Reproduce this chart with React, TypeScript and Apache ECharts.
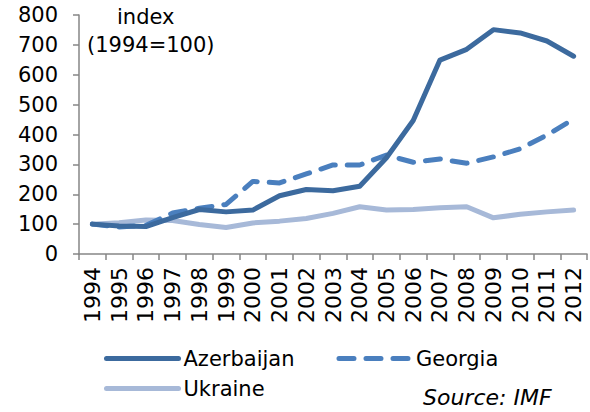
import React, { useEffect, useRef } from "react";
import * as echarts from "echarts";

const years = ["1994","1995","1996","1997","1998","1999","2000","2001","2002","2003","2004","2005","2006","2007","2008","2009","2010","2011","2012"];
const azerbaijan = [100, 94, 92, 122, 149, 141, 147, 195, 216, 212, 227, 322, 447, 649, 685, 751, 740, 713, 662];
const georgia = [100, 90, 96, 137, 153, 166, 243, 238, 268, 298, 298, 331, 307, 318, 304, 325, 352, 398, 452];
const ukraine = [100, 105, 114, 112, 99, 89, 104, 110, 119, 136, 158, 147, 149, 155, 158, 121, 133, 141, 147];
const yTicks = { min: 0, max: 800, interval: 100 };

const FONT = "DejaVu Sans";

export default function App() {
  const ref = useRef<HTMLDivElement>(null);
  useEffect(() => {
    const chart = echarts.init(ref.current!, null, { renderer: "svg" });
    const legendCommon = {
      left: 104,
      padding: 0,
      itemWidth: 72,
      itemHeight: 14,
      itemStyle: { opacity: 0 },
      lineStyle: { width: 5, cap: "round" },
      textStyle: { fontSize: 21, color: "#000", fontFamily: FONT },
      selectedMode: false,
    };
    chart.setOption({
      animation: false,
      textStyle: { fontFamily: FONT },
      grid: { left: 79, right: 3, top: 15, bottom: 158, containLabel: false },
      xAxis: {
        type: "category",
        data: years,
        boundaryGap: true,
        axisLine: { lineStyle: { color: "#868686", width: 1.5 } },
        axisTick: { show: true, length: 6, lineStyle: { color: "#868686", width: 1.5 } },
        axisLabel: { rotate: 90, color: "#000", fontSize: 22, fontFamily: FONT, margin: 13, interval: 0 },
      },
      yAxis: {
        type: "value",
        min: yTicks.min,
        max: yTicks.max,
        interval: yTicks.interval,
        axisLine: { show: true, lineStyle: { color: "#868686", width: 1.5 } },
        axisTick: { show: true, length: 6, lineStyle: { color: "#868686", width: 1.5 } },
        splitLine: { show: false },
        axisLabel: { color: "#000", fontSize: 21, fontFamily: FONT, margin: 21 },
      },
      legend: [
        { ...legendCommon, data: ["Azerbaijan", "Georgia"], top: 348, itemGap: 42 },
        { ...legendCommon, data: ["Ukraine"], top: 378 },
      ],
      graphic: [
        { type: "text", left: 117, top: 6, style: { text: "index", fontSize: 21, fontFamily: FONT, fill: "#000" } },
        { type: "text", left: 87, top: 34, style: { text: "(1994=100)", fontSize: 21, fontFamily: FONT, fill: "#000" } },
        { type: "text", left: 423, top: 386, style: { text: "Source: IMF", fontSize: 22, fontStyle: "italic", fontFamily: FONT, fill: "#000" } },
      ],
      series: [
        {
          name: "Azerbaijan",
          type: "line",
          data: azerbaijan,
          symbol: "none",
          itemStyle: { color: "#3C6A9E" },
          lineStyle: { color: "#3C6A9E", width: 5, cap: "round", join: "round" },
          z: 3,
        },
        {
          name: "Georgia",
          type: "line",
          data: georgia,
          symbol: "none",
          itemStyle: { color: "#4A7FBE" },
          lineStyle: { color: "#4A7FBE", width: 5, type: [15, 12], cap: "round", join: "round" },
          z: 2,
        },
        {
          name: "Ukraine",
          type: "line",
          data: ukraine,
          symbol: "none",
          itemStyle: { color: "#A7B9D8" },
          lineStyle: { color: "#A7B9D8", width: 5, cap: "round", join: "round" },
          z: 1,
        },
      ],
    });
    return () => chart.dispose();
  }, []);
  return <div ref={ref} style={{ width: 590, height: 412, position: "absolute", left: 0, top: 0 }} />;
}
